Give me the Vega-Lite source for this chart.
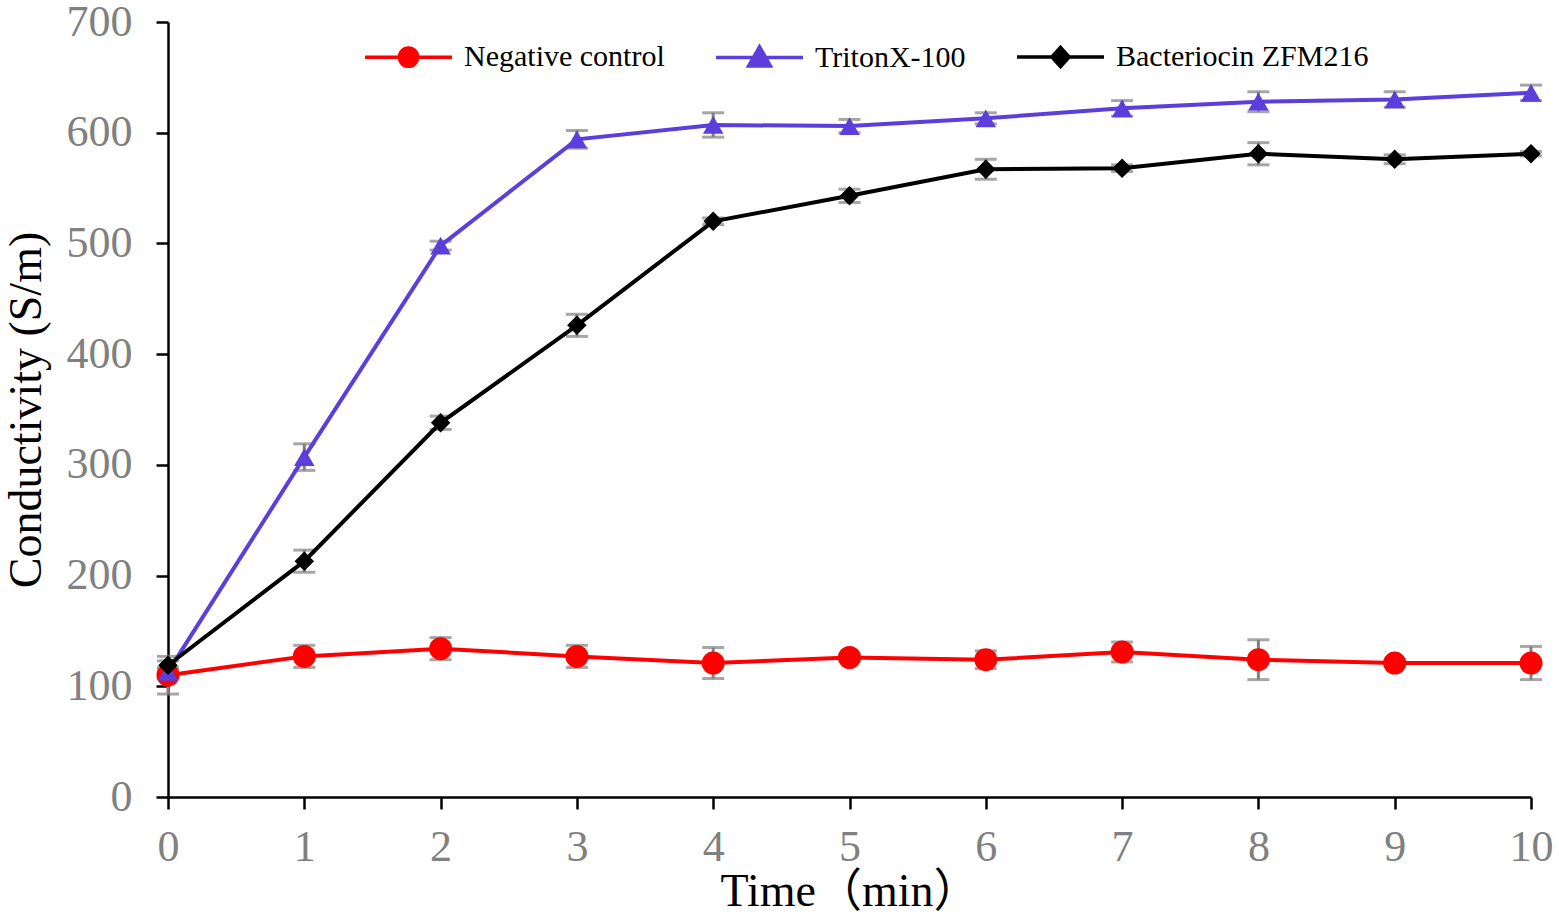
{
  "$schema": "https://vega.github.io/schema/vega-lite/v6.json",
  "autosize": {"type": "none"},
  "width": 1363,
  "height": 775,
  "padding": {"left": 168, "top": 22, "right": 28, "bottom": 119},
  "background": "white",
  "config": {
    "view": {"stroke": null},
    "axis": {
      "grid": false,
      "domainColor": "#000000",
      "domainWidth": 2.5,
      "tickColor": "#000000",
      "tickWidth": 2.5,
      "tickSize": 12,
      "labelColor": "#808080",
      "labelFont": "Liberation Serif",
      "labelFontSize": 44,
      "labelFlush": false,
      "titleFont": "Liberation Serif, Noto Sans CJK SC",
      "titleFontWeight": "normal",
      "titleColor": "#000000"
    },
    "legend": {
      "labelFont": "Liberation Serif",
      "labelFontSize": 30,
      "labelColor": "#000000",
      "labelLimit": 0
    }
  },
  "datasets": {
    "conductivity": [
      {"time": 0, "series": "Negative control", "value": 110, "err": 17},
      {"time": 1, "series": "Negative control", "value": 127, "err": 10},
      {"time": 2, "series": "Negative control", "value": 134, "err": 10},
      {"time": 3, "series": "Negative control", "value": 127, "err": 10},
      {"time": 4, "series": "Negative control", "value": 121, "err": 14},
      {"time": 5, "series": "Negative control", "value": 126, "err": 3},
      {"time": 6, "series": "Negative control", "value": 124, "err": 8},
      {"time": 7, "series": "Negative control", "value": 131, "err": 9},
      {"time": 8, "series": "Negative control", "value": 124, "err": 18},
      {"time": 9, "series": "Negative control", "value": 121, "err": 3},
      {"time": 10, "series": "Negative control", "value": 121, "err": 15},
      {"time": 0, "series": "TritonX-100", "value": 113, "err": 4},
      {"time": 1, "series": "TritonX-100", "value": 307, "err": 12},
      {"time": 2, "series": "TritonX-100", "value": 498, "err": 4},
      {"time": 3, "series": "TritonX-100", "value": 594, "err": 8},
      {"time": 4, "series": "TritonX-100", "value": 607, "err": 11},
      {"time": 5, "series": "TritonX-100", "value": 606, "err": 6},
      {"time": 6, "series": "TritonX-100", "value": 613, "err": 5},
      {"time": 7, "series": "TritonX-100", "value": 622, "err": 7},
      {"time": 8, "series": "TritonX-100", "value": 628, "err": 9},
      {"time": 9, "series": "TritonX-100", "value": 630, "err": 7},
      {"time": 10, "series": "TritonX-100", "value": 636, "err": 7},
      {"time": 0, "series": "Bacteriocin ZFM216", "value": 119, "err": 4},
      {"time": 1, "series": "Bacteriocin ZFM216", "value": 213, "err": 10},
      {"time": 2, "series": "Bacteriocin ZFM216", "value": 338, "err": 6},
      {"time": 3, "series": "Bacteriocin ZFM216", "value": 426, "err": 10},
      {"time": 4, "series": "Bacteriocin ZFM216", "value": 520, "err": 3},
      {"time": 5, "series": "Bacteriocin ZFM216", "value": 543, "err": 6},
      {"time": 6, "series": "Bacteriocin ZFM216", "value": 567, "err": 9},
      {"time": 7, "series": "Bacteriocin ZFM216", "value": 568, "err": 3},
      {"time": 8, "series": "Bacteriocin ZFM216", "value": 581, "err": 10},
      {"time": 9, "series": "Bacteriocin ZFM216", "value": 576, "err": 4},
      {"time": 10, "series": "Bacteriocin ZFM216", "value": 581, "err": 2}
    ]
  },
  "data": {"name": "conductivity"},
  "encoding": {
    "x": {
      "field": "time",
      "type": "quantitative",
      "title": "Time（min）",
      "scale": {"domain": [0, 10], "nice": false},
      "axis": {"values": [0, 1, 2, 3, 4, 5, 6, 7, 8, 9, 10], "labelPadding": 16, "titlePadding": 0, "titleFontSize": 46}
    }
  },
  "layer": [
    {
      "mark": {
        "type": "errorbar",
        "color": "#808080",
        "thickness": 3,
        "ticks": {"size": 22, "thickness": 3, "color": "#808080"}
      },
      "encoding": {
        "y": {
          "field": "value",
          "type": "quantitative",
          "title": "Conductivity (S/m)",
          "scale": {"domain": [0, 700], "nice": false},
          "axis": {"values": [0, 100, 200, 300, 400, 500, 600, 700], "labelPadding": 24, "titlePadding": 16, "titleFontSize": 46}
        },
        "yError": {"field": "err"}
      }
    },
    {
      "mark": {"type": "line", "strokeWidth": 4},
      "encoding": {
        "y": {"field": "value", "type": "quantitative"},
        "color": {
          "field": "series",
          "type": "nominal",
          "scale": {
            "domain": ["Negative control", "TritonX-100", "Bacteriocin ZFM216"],
            "range": ["#FF0000", "#5B3EDC", "#000000"]
          },
          "legend": {
            "title": null,
            "orient": "none",
            "direction": "horizontal",
            "legendX": 195,
            "legendY": -11,
            "padding": 0,
            "columnPadding": 44,
            "symbolSize": 7569,
            "labelOffset": 10,
            "symbolStrokeWidth": 3.5,
            "encode": {
              "symbols": {
                "update": {
                  "shape": {"signal": "datum.value === 'Negative control' ? 'M-1,0H1M0.21,0A0.21,0.21 0 1,1 -0.21,0A0.21,0.21 0 1,1 0.21,0Z' : datum.value === 'TritonX-100' ? 'M-1,0H1M0,-0.25L0.25,0.19L-0.25,0.19Z' : 'M-1,0H1M0,-0.22L0.2,0L0,0.22L-0.2,0Z'"},
                  "fill": {"scale": "color", "field": "value"},
                  "stroke": {"scale": "color", "field": "value"},
                  "strokeWidth": {"value": 3.5},
                  "opacity": {"value": 1}
                }
              }
            }
          }
        }
      }
    },
    {
      "transform": [{"filter": "datum.series === 'Negative control'"}],
      "mark": {"type": "point", "filled": true, "opacity": 1, "shape": "circle", "size": 530, "color": "#FF0000"},
      "encoding": {"y": {"field": "value", "type": "quantitative"}}
    },
    {
      "transform": [{"filter": "datum.series === 'TritonX-100'"}],
      "mark": {"type": "point", "filled": true, "opacity": 1, "shape": "triangle-up", "size": 420, "color": "#5B3EDC"},
      "encoding": {"y": {"field": "value", "type": "quantitative"}}
    },
    {
      "transform": [{"filter": "datum.series === 'Bacteriocin ZFM216'"}],
      "mark": {"type": "point", "filled": true, "opacity": 1, "shape": "diamond", "size": 380, "color": "#000000"},
      "encoding": {"y": {"field": "value", "type": "quantitative"}}
    }
  ]
}
